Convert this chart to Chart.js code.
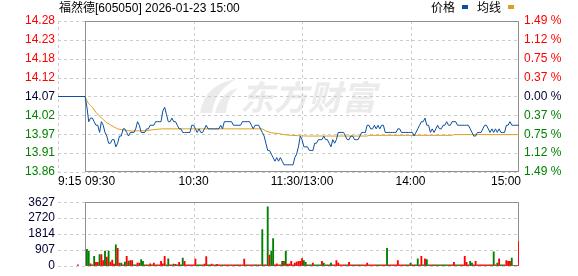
<!DOCTYPE html>
<html>
<head>
<meta charset="utf-8">
<script src="https://cdn.jsdelivr.net/npm/chart.js@4.4.1/dist/chart.umd.min.js"></script>
<style>
html, body { margin: 0; padding: 0; background: #fff; }
#wrap { position: relative; width: 578px; height: 276px; }
#priceChart { position: absolute; left: 0; top: 0; }
#volChart { position: absolute; left: 0; top: 192px; }
</style>
</head>
<body>
<div id="wrap">
  <canvas id="priceChart" width="578" height="192"></canvas>
  <canvas id="volChart" width="578" height="84"></canvas>
</div>
<script>
// minutes counted from 09:30, lunch break collapsed (120 = 11:30/13:00, 240 = 15:00)
const title = '福然德[605050] 2026-01-23 15:00';
const prevClose = 14.07;
const priceMin = 13.86, priceMax = 14.28;
const priceTickLabels = ['13.86', '13.91', '13.97', '14.02', '14.07', '14.12', '14.18', '14.23', '14.28'];
const pctTickLabels = ['1.49 %', '1.12 %', '0.75 %', '0.37 %', '0.00 %', '0.37 %', '0.75 %', '1.12 %', '1.49 %'];
const volMax = 3627;
const volTickLabels = ['0', '907', '1814', '2720', '3627'];
const timeTicks = [-15, 0, 60, 120, 180, 240];
const timeLabels = ['9:15', '09:30', '10:30', '11:30/13:00', '14:00', '15:00'];

// price per minute, 09:30 .. 15:00
const price = [
  14.07, 14.04, 14.00, 14.01, 14.01, 14.00, 13.99, 13.99, 13.97, 14.00,
  13.99, 13.97, 13.96, 13.94, 13.94, 13.95, 13.95, 13.93, 13.94, 13.96,
  13.96, 13.98, 13.98, 13.97, 13.96, 13.97, 13.97, 13.97, 13.98, 14.00,
  13.99, 13.97, 13.97, 13.97, 13.98, 13.98, 13.99, 13.99, 13.99, 14.00,
  14.00, 14.00, 14.00, 14.03, 14.04, 14.02, 14.00, 14.00, 14.01, 14.00,
  14.00, 13.99, 13.98, 13.98, 13.97, 13.97, 13.97, 13.97, 13.97, 13.99,
  13.99, 13.98, 13.97, 13.98, 13.97, 13.97, 13.98, 13.99, 13.98, 13.98,
  13.98, 13.98, 13.98, 13.98, 13.98, 13.99, 13.98, 14.00, 14.00, 14.00,
  14.00, 14.00, 13.99, 13.99, 13.99, 13.99, 13.99, 14.00, 14.00, 14.00,
  14.00, 14.00, 13.99, 13.98, 13.99, 13.99, 13.99, 13.98, 13.97, 13.96,
  13.94, 13.92, 13.92, 13.91, 13.90, 13.89, 13.90, 13.89, 13.90, 13.89,
  13.88, 13.88, 13.88, 13.88, 13.88, 13.88, 13.90, 13.91, 13.93, 13.96,
  13.95, 13.93, 13.93, 13.93, 13.92, 13.92, 13.92, 13.94, 13.94, 13.95,
  13.95, 13.95, 13.96, 13.95, 13.95, 13.94, 13.93, 13.95, 13.94, 13.95,
  13.97, 13.97, 13.97, 13.97, 13.96, 13.95, 13.95, 13.96, 13.96, 13.95,
  13.95, 13.95, 13.96, 13.97, 13.97, 13.97, 13.99, 13.99, 13.98, 13.98,
  13.99, 13.98, 13.99, 13.98, 13.99, 13.99, 13.97, 13.97, 13.97, 13.97,
  13.97, 13.97, 13.97, 13.98, 13.98, 13.97, 13.97, 13.97, 13.97, 13.97,
  13.97, 13.97, 13.96, 13.97, 13.98, 13.99, 14.00, 14.00, 14.01, 13.99,
  13.99, 13.97, 13.98, 13.97, 13.98, 13.99, 13.98, 13.98, 13.99, 13.99,
  14.00, 13.99, 13.99, 14.00, 14.00, 14.00, 13.99, 13.99, 13.99, 13.99,
  13.99, 13.99, 13.99, 13.98, 13.97, 13.96, 13.96, 13.97, 13.97, 13.97,
  13.98, 13.99, 13.99, 13.98, 13.97, 13.98, 13.97, 13.98, 13.97, 13.98,
  13.97, 13.97, 13.97, 13.99, 13.99, 14.00, 13.99, 13.99, 13.99, 13.99,
  13.99
];

// average line read at these minutes
const avgMinutes = [0, 1, 2, 3, 4, 6, 8, 10, 12, 14, 16, 18, 20, 23, 26, 34, 38, 43, 98, 100, 103, 107, 110, 114, 118, 123, 156, 157, 203, 204, 240];
const avgPrice = [14.07, 14.058, 14.05, 14.045, 14.04, 14.026, 14.015, 14.006, 13.997, 13.991, 13.985, 13.98, 13.978, 13.975, 13.974, 13.975, 13.978, 13.98, 13.98, 13.974, 13.969, 13.967, 13.964, 13.962, 13.961, 13.96, 13.96, 13.962, 13.962, 13.964, 13.964];

// call auction bar
const auctionMinute = -4;
const auctionVolume = 50;

// volume per minute, 09:31 .. 15:00, and side (r = up, g = down)
const volume = [
  940, 825, 115, 50, 545, 200, 200, 645, 645, 300,
  840, 495, 840, 215, 330, 100, 1190, 990, 150, 150,
  60, 215, 545, 265, 300, 300, 60, 60, 150, 150,
  350, 250, 60, 60, 60, 115, 60, 150, 60, 60,
  60, 250, 115, 545, 60, 400, 60, 60, 100, 80,
  60, 200, 60, 445, 250, 60, 60, 60, 60, 60,
  390, 60, 60, 60, 60, 100, 530, 60, 60, 100,
  60, 60, 80, 60, 60, 60, 60, 60, 60, 60,
  60, 60, 60, 60, 60, 60, 60, 390, 60, 60,
  60, 60, 60, 60, 60, 60, 60, 2070, 60, 60,
  3370, 610, 840, 1550, 60, 115, 60, 60, 250, 250,
  840, 100, 100, 250, 60, 150, 215, 250, 250, 410,
  300, 200, 60, 60, 60, 150, 60, 60, 60, 60,
  250, 150, 60, 60, 60, 150, 60, 60, 300, 150,
  60, 60, 60, 60, 60, 200, 60, 60, 60, 60,
  60, 60, 60, 60, 60, 150, 60, 60, 60, 60,
  60, 60, 60, 60, 60, 60, 990, 60, 60, 60,
  60, 60, 300, 60, 60, 60, 60, 60, 60, 150,
  60, 60, 60, 400, 60, 545, 60, 400, 350, 60,
  60, 60, 60, 60, 60, 60, 60, 60, 60, 60,
  60, 60, 60, 200, 60, 60, 60, 60, 60, 545,
  200, 60, 250, 150, 60, 250, 60, 60, 60, 60,
  60, 60, 60, 60, 60, 790, 60, 150, 400, 60,
  60, 60, 300, 250, 250, 445, 0, 0, 0, 1385
];
const volSide = (
  'ggrrgrrgrr' + 'grgrrrgrrg' + 'rgrgrrggrr' + 'ggrgrrgrrr' + 'rrrrggrrgr' +
  'grggrrrrrr' + 'rgggrrrggr' + 'rgrrrgrrrg' + 'rrrgrrrrrg' + 'rrrgrgrgrr' +
  'grggrrrrgr' + 'grrrrrrrrr' + 'ggrggrgggg' + 'rggrggrrrr' + 'rrrrgrrrgr' +
  'rgrrrrrrrr' + 'rggrrrgrrr' + 'rrrrrrrgrg' + 'rrggrrgrgg' + 'rrgrggrggg' +
  'rrgrrggrrr' + 'rrggrrrrrr' + 'rrrrrgrgrg' + 'grrrrgrrrr'
).split('');

const FONT = '"Liberation Sans", Arial, "Noto Sans CJK SC", sans-serif';
const RED = '#ff0000', GREEN = '#008000', DARK = '#000033';
const BLUE = '#0b4f9f', GOLD = '#dca01e';
Chart.defaults.font.family = FONT;
Chart.defaults.font.size = 12;

function gridPlugin(tickValues, xLines) {
  return {
    id: 'grid',
    beforeDraw(chart) {
      const { ctx, chartArea: a, scales } = chart;
      const x = scales.x, y = scales.y;
      ctx.save();
      ctx.lineWidth = 1;
      ctx.strokeStyle = '#cccccc';
      ctx.setLineDash([3, 3]);
      ctx.beginPath();
      tickValues.forEach(v => {
        const py = Math.round(y.getPixelForValue(v)) + 0.5;
        ctx.moveTo(a.left, py);
        ctx.lineTo(a.right, py);
      });
      xLines.forEach(v => {
        const px = Math.round(x.getPixelForValue(v)) + 0.5;
        ctx.moveTo(px, a.top);
        ctx.lineTo(px, a.bottom);
      });
      ctx.stroke();
      ctx.setLineDash([]);
      ctx.strokeStyle = '#909090';
      const l = Math.round(x.getPixelForValue(0)) + 0.5;
      const r = Math.round(x.getPixelForValue(240)) - 0.5;
      const t = Math.round(a.top) + 0.5, b = Math.round(a.bottom) - 0.5;
      ctx.strokeRect(l, t, r - l, b - t);
      ctx.restore();
    }
  };
}

const priceTicks = priceTickLabels.map((_, i) => priceMin + i * (priceMax - priceMin) / 8);
const volTicks = volTickLabels.map((_, i) => i * volMax / 4);

const watermark = {
  id: 'watermark',
  beforeDraw(chart) {
    const ctx = chart.ctx;
    ctx.save();
    ctx.fillStyle = '#ebebeb';
    ctx.beginPath();
    ctx.moveTo(200, 113);
    ctx.quadraticCurveTo(205, 84, 236, 79);
    ctx.quadraticCurveTo(214, 92, 212, 113);
    ctx.closePath();
    ctx.fill();
    ctx.beginPath();
    ctx.moveTo(215, 113);
    ctx.quadraticCurveTo(220, 92, 238, 88);
    ctx.quadraticCurveTo(226, 99, 226, 113);
    ctx.closePath();
    ctx.fill();
    ctx.font = 'italic bold 34px "Noto Sans CJK SC", sans-serif';
    ctx.textBaseline = 'middle';
    ctx.fillText('东方财富', 240, 97);
    ctx.restore();
  }
};

const labels = {
  id: 'labels',
  afterDraw(chart) {
    const ctx = chart.ctx, x = chart.scales.x;
    ctx.save();
    ctx.font = '12px ' + FONT;
    ctx.textBaseline = 'middle';
    ctx.fillStyle = '#000';
    ctx.textAlign = 'left';
    ctx.fillText(title, 59, 9);
    ctx.fillText('价格', 431, 9);
    ctx.fillText('均线', 477, 9);
    ctx.fillStyle = BLUE;
    ctx.fillRect(462, 5, 6, 4);
    ctx.fillStyle = GOLD;
    ctx.fillRect(508, 5, 6, 4);
    ctx.fillStyle = '#000';
    timeTicks.forEach((v, i) => {
      ctx.textAlign = i < 2 ? 'left' : (i === timeTicks.length - 1 ? 'right' : 'center');
      ctx.fillText(timeLabels[i], x.getPixelForValue(v) + (i === timeTicks.length - 1 ? 2 : 0), 182);
    });
    ctx.restore();
  }
};

const tickColor = ctx => ctx.index < 4 ? GREEN : (ctx.index === 4 ? DARK : RED);

new Chart(document.getElementById('priceChart'), {
  type: 'line',
  data: {
    datasets: [
      {
        label: '价格',
        data: [{ x: -15, y: prevClose }].concat(price.map((p, i) => ({ x: i, y: p }))),
        borderColor: BLUE, borderWidth: 1, pointRadius: 0, tension: 0
      },
      {
        label: '均线',
        data: avgMinutes.map((m, i) => ({ x: m, y: avgPrice[i] })),
        borderColor: GOLD, borderWidth: 1, pointRadius: 0, tension: 0
      }
    ]
  },
  options: {
    responsive: false,
    animation: false,
    events: [],
    layout: { padding: { top: 21, bottom: 20 } },
    plugins: { legend: { display: false }, tooltip: { enabled: false } },
    scales: {
      x: { type: 'linear', min: -15, max: 240, display: false },
      y: {
        position: 'left', min: priceMin, max: priceMax,
        grid: { display: false, drawTicks: false }, border: { display: false },
        afterFit(s) { s.width = 58; },
        afterBuildTicks(s) { s.ticks = priceTicks.map(v => ({ value: v })); },
        ticks: { autoSkip: false, padding: 3, color: tickColor, callback: (v, i) => priceTickLabels[i] }
      },
      y2: {
        position: 'right', min: priceMin, max: priceMax,
        grid: { display: false, drawTicks: false }, border: { display: false },
        afterFit(s) { s.width = 59; },
        afterBuildTicks(s) { s.ticks = priceTicks.map(v => ({ value: v })); },
        ticks: { autoSkip: false, padding: 5, color: tickColor, callback: (v, i) => pctTickLabels[i] }
      }
    }
  },
  plugins: [watermark, gridPlugin(priceTicks, [-15, 60, 120, 180]), labels]
});

new Chart(document.getElementById('volChart'), {
  type: 'bar',
  data: {
    datasets: [{
      data: [{ x: auctionMinute, y: auctionVolume }].concat(volume.map((v, i) => ({ x: i + 1, y: v }))),
      backgroundColor: ['r'].concat(volSide).map(s => s === 'r' ? RED : GREEN),
      barThickness: 1.2,
      borderWidth: 0
    }]
  },
  options: {
    responsive: false,
    animation: false,
    events: [],
    layout: { padding: { top: 4, bottom: 6, right: 59 } },
    plugins: { legend: { display: false }, tooltip: { enabled: false } },
    scales: {
      x: { type: 'linear', min: -15, max: 240, display: false, offset: false, grid: { offset: false } },
      y: {
        position: 'left', min: 0, max: volMax,
        grid: { display: false, drawTicks: false }, border: { display: false },
        afterFit(s) { s.width = 58; },
        afterBuildTicks(s) { s.ticks = volTicks.map(v => ({ value: v })); },
        ticks: { autoSkip: false, padding: 3, color: DARK, callback: (v, i) => volTickLabels[i] }
      }
    }
  },
  plugins: [gridPlugin(volTicks, [60, 120, 180])]
});
</script>
</body>
</html>
